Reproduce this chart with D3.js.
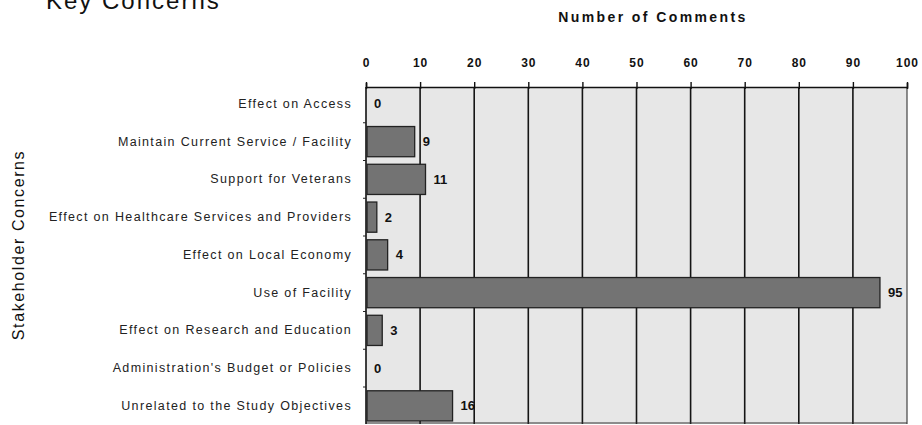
<!DOCTYPE html>
<html>
<head>
<meta charset="utf-8">
<script src="https://cdn.jsdelivr.net/npm/d3@7"></script>
<style>
  body { margin: 0; background: #fff; }
  svg { display: block; font-family: "Liberation Sans", Arial, sans-serif; }
</style>
</head>
<body>
<div id="chart"></div>
<script>
// Data
const categories = [
  "Effect on Access",
  "Maintain Current Service / Facility",
  "Support for Veterans",
  "Effect on Healthcare Services and Providers",
  "Effect on Local Economy",
  "Use of Facility",
  "Effect on Research and Education",
  "Administration's Budget or Policies",
  "Unrelated to the Study Objectives"
];
const comments = [0, 9, 11, 2, 4, 95, 3, 0, 16];
const xTicks = [0, 10, 20, 30, 40, 50, 60, 70, 80, 90, 100];

const W = 922, H = 425;
const plot = { left: 366, right: 907, top: 87, bottom: 424 };

const svg = d3.select("#chart").append("svg")
  .attr("width", W).attr("height", H);

// Scales
const x = d3.scaleLinear().domain([0, 100]).range([plot.left, plot.right]);
const y = d3.scaleBand()
  .domain(categories)
  .range([plot.top - 2, plot.top - 2 + 37.75 * categories.length])
  .paddingInner(0.2)
  .paddingOuter(0.1);

// Plot background
svg.append("rect")
  .attr("x", plot.left).attr("y", plot.top)
  .attr("width", plot.right - plot.left).attr("height", plot.bottom - plot.top)
  .attr("fill", "#e7e7e7");

// Gridlines
svg.append("g")
  .selectAll("line")
  .data(xTicks.filter(d => d > 0 && d < 100))
  .join("line")
  .attr("x1", d => x(d)).attr("x2", d => x(d))
  .attr("y1", plot.top).attr("y2", plot.bottom)
  .attr("stroke", "#151515").attr("stroke-width", 1.6);

// Right and bottom border
svg.append("line")
  .attr("x1", x(100)).attr("x2", x(100))
  .attr("y1", plot.top).attr("y2", plot.bottom)
  .attr("stroke", "#444").attr("stroke-width", 1.2);
svg.append("line")
  .attr("x1", plot.left).attr("x2", plot.right)
  .attr("y1", plot.bottom - 1).attr("y2", plot.bottom - 1)
  .attr("stroke", "#333").attr("stroke-width", 1.2);

// Top axis
const xAxis = svg.append("g")
  .attr("transform", `translate(0,${plot.top})`)
  .call(d3.axisTop(x).tickValues(xTicks).tickSize(4).tickPadding(16));
xAxis.select(".domain").attr("stroke", "#111").attr("stroke-width", 1.6);
xAxis.selectAll(".tick line").attr("stroke", "#111").attr("stroke-width", 1.4)
  .attr("y2", -5).attr("y1", 2);
xAxis.selectAll(".tick text")
  .attr("fill", "#111")
  .style("font-size", "12px")
  .style("font-weight", "bold")
  .style("letter-spacing", "1px");

// Left axis
const yAxis = svg.append("g")
  .attr("transform", `translate(${plot.left},0)`)
  .call(d3.axisLeft(y).tickSize(0).tickPadding(14));
yAxis.select(".domain").attr("stroke", "#111").attr("stroke-width", 1.6)
  .attr("d", `M0,${plot.top}V${plot.bottom}`);
yAxis.selectAll(".tick text")
  .attr("fill", "#222")
  .style("font-size", "12.5px")
  .style("letter-spacing", "1.35px");

// Row boundary ticks on the left axis
const step = y.step();
svg.append("g")
  .selectAll("line")
  .data(categories.slice(1))
  .join("line")
  .attr("x1", plot.left - 3).attr("x2", plot.left)
  .attr("y1", d => y(d) - step * 0.1).attr("y2", d => y(d) - step * 0.1)
  .attr("stroke", "#222").attr("stroke-width", 1);

// Bars
svg.append("g")
  .selectAll("rect")
  .data(categories.map((c, i) => ({ name: c, value: comments[i] })))
  .join("rect")
  .attr("x", x(0) + 1)
  .attr("y", d => y(d.name))
  .attr("width", d => Math.max(0, x(d.value) - x(0) - 1))
  .attr("height", y.bandwidth())
  .attr("fill", d => d.value > 0 ? "#737373" : "none")
  .attr("stroke", d => d.value > 0 ? "#222" : "none")
  .attr("stroke-width", 1.3);

// Value labels
svg.append("g")
  .selectAll("text")
  .data(categories.map((c, i) => ({ name: c, value: comments[i] })))
  .join("text")
  .attr("x", d => x(d.value) + 8)
  .attr("y", d => y(d.name) + y.bandwidth() / 2)
  .attr("dy", "0.35em")
  .attr("fill", "#111")
  .style("font-size", "13px")
  .style("font-weight", "bold")
  .text(d => d.value);

// Titles
svg.append("text")
  .attr("x", 46).attr("y", 9)
  .style("font-size", "24px")
  .style("letter-spacing", "2px")
  .attr("fill", "#111")
  .text("Key Concerns");

svg.append("text")
  .attr("x", 653).attr("y", 22)
  .attr("text-anchor", "middle")
  .style("font-size", "14px")
  .style("font-weight", "bold")
  .style("letter-spacing", "2.4px")
  .attr("fill", "#111")
  .text("Number of Comments");

svg.append("text")
  .attr("transform", "translate(24,245) rotate(-90)")
  .attr("text-anchor", "middle")
  .style("font-size", "16px")
  .style("letter-spacing", "1.6px")
  .attr("fill", "#111")
  .text("Stakeholder Concerns");
</script>
</body>
</html>
